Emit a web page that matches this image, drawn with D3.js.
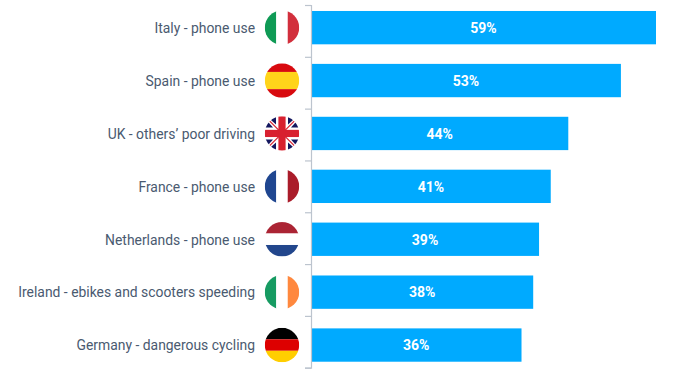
<!DOCTYPE html>
<html lang="en">
<head>
<meta charset="utf-8">
<title>Road safety concerns</title>
<script src="https://cdn.jsdelivr.net/npm/d3@7"></script>
<style>
	html, body { margin: 0; padding: 0; background: #fff; }
	svg { display: block; font-family: Roboto, sans-serif; }
	.label { font-size: 13.9px; fill: #4a5a70; }
	.value { font-size: 14px; font-weight: 700; fill: #fff; }
	.axis path, .axis line { stroke: #bcc4ce; stroke-width: 1.2; }
</style>
</head>
<body>
<div class="chart"></div>
<script>
var labels = ["Italy - phone use", "Spain - phone use", "UK - others\u2019 poor driving", "France - phone use",
	"Netherlands - phone use", "Ireland - ebikes and scooters speeding", "Germany - dangerous cycling"];
var values = [59, 53, 44, 41, 39, 38, 36];
var flagCodes = ["it", "es", "uk", "fr", "nl", "ie", "de"];

// stripes of each flag: colours and relative sizes
var flagColors = {
	it: ["#0f9a55", "#ffffff", "#d22f3c"],
	es: ["#d80a0f", "#ffd41a", "#d80a0f"],
	fr: ["#1f4690", "#ffffff", "#aa1c2a"],
	nl: ["#ab2434", "#ffffff", "#22468c"],
	ie: ["#169b62", "#ffffff", "#ff883e"],
	de: ["#000000", "#dd0000", "#ffce00"]
};
var flagWeights = { es: [1, 2, 1] };
var flagVertical = ["it", "fr", "ie"];

var w = 690, h = 389;
var axisX = 311, flagX = 282, flagR = 17.2, labelX = 255;

var svg = d3.select("div.chart").append("svg")
	.attr("width", w)
	.attr("height", h);

var y = d3.scaleBand().domain(labels).range([1.2, 371.5]).paddingInner(0.37).paddingOuter(0.185);
var x = d3.scaleLinear().domain([0, 59]).range([axisX, 656]);
var tickScale = d3.scaleLinear().domain([0, labels.length]).range([5, 367.7]);

svg.selectAll("rect.bar")
	.data(values)
	.enter()
	.append("rect")
	.attr("class", "bar")
	.attr("x", axisX)
	.attr("y", (d, i) => y(labels[i]))
	.attr("width", d => x(d) - axisX)
	.attr("height", y.bandwidth())
	.attr("fill", "#00aaff");

svg.append("g")
	.attr("class", "axis")
	.attr("transform", "translate(" + axisX + ",0)")
	.call(d3.axisLeft(tickScale).ticks(labels.length).tickFormat("").tickSize(6).tickSizeOuter(6));

svg.selectAll("text.label")
	.data(labels)
	.enter()
	.append("text")
	.attr("class", "label")
	.attr("x", labelX)
	.attr("y", d => y(d) + y.bandwidth() / 2 + 0.4)
	.attr("dy", "0.35em")
	.attr("text-anchor", "end")
	.text(d => d);

svg.selectAll("text.value")
	.data(values)
	.enter()
	.append("text")
	.attr("class", "value")
	.attr("x", d => axisX + (x(d) - axisX) / 2)
	.attr("y", (d, i) => y(labels[i]) + y.bandwidth() / 2 + 0.4)
	.attr("dy", "0.35em")
	.attr("text-anchor", "middle")
	.text(d => d + "%");

var defs = svg.append("defs");

var flags = svg.selectAll("g.flag")
	.data(flagCodes)
	.enter()
	.append("g")
	.attr("class", "flag")
	.attr("transform", (d, i) => "translate(" + flagX + "," + (y(labels[i]) + y.bandwidth() / 2) + ")")
	.attr("clip-path", d => "url(#clip-" + d + ")");

flagCodes.forEach(function (code) {
	defs.append("clipPath").attr("id", "clip-" + code)
		.append("circle").attr("r", flagR);
});

flags.each(function (code) {
	var g = d3.select(this);
	if (code === "uk") {
		drawUnion(g);
		return;
	}
	var colors = flagColors[code];
	var weights = flagWeights[code] || colors.map(() => 1);
	var total = d3.sum(weights);
	var vertical = flagVertical.indexOf(code) >= 0;
	var size = flagR * 2;
	var pos = -flagR;
	colors.forEach(function (c, i) {
		var len = size * weights[i] / total;
		g.append("rect")
			.attr("x", vertical ? pos : -flagR)
			.attr("y", vertical ? -flagR : pos)
			.attr("width", vertical ? len : size)
			.attr("height", vertical ? size : len)
			.attr("fill", c);
		pos += len;
	});
});

function drawUnion(g) {
	var r = flagR;
	g.append("rect").attr("x", -r).attr("y", -r).attr("width", r * 2).attr("height", r * 2).attr("fill", "#fff");
	// blue triangles between the diagonals and the cross, white kept around the cross
	[[1, 1], [1, -1], [-1, 1], [-1, -1]].forEach(function (s) {
		g.append("path")
			.attr("d", d3.line()([[s[0] * 6, s[1] * 9], [s[0] * 6, s[1] * 17], [s[0] * 15, s[1] * 17]]))
			.attr("fill", "#14175f");
		g.append("path")
			.attr("d", d3.line()([[s[0] * 9, s[1] * 6], [s[0] * 17, s[1] * 6], [s[0] * 17, s[1] * 15]]))
			.attr("fill", "#14175f");
		g.append("line")
			.attr("x1", s[0] * 3).attr("y1", s[1] * 3)
			.attr("x2", s[0] * 17).attr("y2", s[1] * 17)
			.attr("stroke", "#d8202f").attr("stroke-width", 1.2);
	});
	g.append("rect").attr("x", -r).attr("y", -3.6).attr("width", r * 2).attr("height", 7.2).attr("fill", "#d8202f");
	g.append("rect").attr("x", -3.6).attr("y", -r).attr("width", 7.2).attr("height", r * 2).attr("fill", "#d8202f");
}
</script>
</body>
</html>
